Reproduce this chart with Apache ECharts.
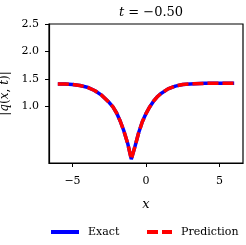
<!DOCTYPE html>
<html><head><meta charset="utf-8">
<script src="https://cdn.jsdelivr.net/npm/echarts@6/dist/echarts.min.js"></script>
<style>html,body{margin:0;padding:0;background:#fff}#c{width:246px;height:245px}</style>
</head><body><div id="c"></div>
<script>
const xValues = [-6, -5.5, -5, -4.5, -4, -3.5, -3, -2.5, -2.25, -2, -1.75, -1.5, -1.25, -1.0, -0.75, -0.5, -0.25, 0, 0.25, 0.5, 0.75, 1.0, 1.5, 2.0, 2.5, 3, 4, 5, 6];
const exactValues = [1.41, 1.41, 1.40, 1.38, 1.35, 1.29, 1.20, 1.07, 0.99, 0.88, 0.73, 0.55, 0.33, 0.04, 0.27, 0.52, 0.72, 0.87, 0.99, 1.09, 1.17, 1.23, 1.32, 1.37, 1.40, 1.41, 1.42, 1.42, 1.42];
const predValues = [1.41, 1.41, 1.40, 1.38, 1.35, 1.29, 1.20, 1.07, 0.99, 0.88, 0.73, 0.55, 0.33, 0.04, 0.27, 0.52, 0.72, 0.87, 0.99, 1.09, 1.17, 1.23, 1.32, 1.37, 1.40, 1.41, 1.42, 1.42, 1.42];
const xTicks = [-5, 0, 5];
const yTicks = [1.0, 1.5, 2.0, 2.5];
const titleT = '-0.50';
const seriesNames = ['Exact', 'Prediction'];

const F = 'DejaVu Serif';
const chart = echarts.init(document.getElementById('c'), null, {renderer: 'canvas'});
const minus = s => String(s).replace('-', '\u2212');
const LY = 232;
chart.setOption({
  animation: false,
  backgroundColor: '#fff',
  title: {
    text: '{i|t} = ' + minus(titleT),
    left: 146, top: 1, textAlign: 'center',
    textStyle: {fontFamily: F, fontSize: 13, fontWeight: 'normal', color: '#000',
      rich: {i: {fontFamily: F, fontStyle: 'italic', fontSize: 13, color: '#000'}}}
  },
  grid: {left: 49, right: 3, top: 24, bottom: 82, show: true, borderColor: '#000', borderWidth: 1.2, containLabel: false, outerBoundsMode: 'none'},
  graphic: [
    {type: 'line', shape: {x1: 51, y1: LY, x2: 79, y2: LY}, style: {stroke: '#0000ff', lineWidth: 4}},
    {type: 'text', style: {x: 88, y: LY, text: seriesNames[0], font: '11px "DejaVu Serif"', fill: '#000', verticalAlign: 'middle'}},
    {type: 'line', shape: {x1: 147, y1: LY, x2: 172, y2: LY}, style: {stroke: '#ff0000', lineWidth: 4, lineDash: [11, 4]}},
    {type: 'text', style: {x: 181, y: LY, text: seriesNames[1], font: '11px "DejaVu Serif"', fill: '#000', verticalAlign: 'middle'}}
  ],
  xAxis: {
    type: 'value', min: -6.6, max: 6.6,
    name: 'x', nameLocation: 'middle', nameGap: 35,
    nameTextStyle: {fontFamily: F, fontStyle: 'italic', fontSize: 13, color: '#000'},
    axisLine: {show: true, onZero: false, lineStyle: {color: '#000', width: 1.2}},
    axisTick: {show: true, length: 4, lineStyle: {color: '#000'}, customValues: xTicks},
    axisLabel: {fontFamily: F, fontSize: 11, color: '#000', margin: 13, customValues: xTicks, formatter: v => minus(v)},
    splitLine: {show: false}
  },
  yAxis: {
    type: 'value', min: -0.03, max: 2.5,
    name: '|{i|q}({i|x}, {i|t})|', nameLocation: 'middle', nameGap: 36, nameRotate: 90,
    nameTextStyle: {fontFamily: F, fontSize: 12, color: '#000',
      rich: {i: {fontFamily: F, fontStyle: 'italic', fontSize: 12, color: '#000'}}},
    axisLine: {show: true, onZero: false, lineStyle: {color: '#000', width: 1.2}},
    axisTick: {show: true, length: 4, lineStyle: {color: '#000'}, customValues: yTicks},
    axisLabel: {fontFamily: F, fontSize: 11, color: '#000', margin: 10, customValues: yTicks, formatter: v => v.toFixed(1)},
    splitLine: {show: false}
  },
  series: [
    {name: seriesNames[0], type: 'line', symbol: 'none', data: xValues.map((x, i) => [x, exactValues[i]]),
     lineStyle: {color: '#0000ff', width: 3.5}},
    {name: seriesNames[1], type: 'line', symbol: 'none', data: xValues.map((x, i) => [x, predValues[i]]),
     lineStyle: {color: '#ff0000', width: 3.5, type: [11, 4]}}
  ]
});
</script></body></html>
